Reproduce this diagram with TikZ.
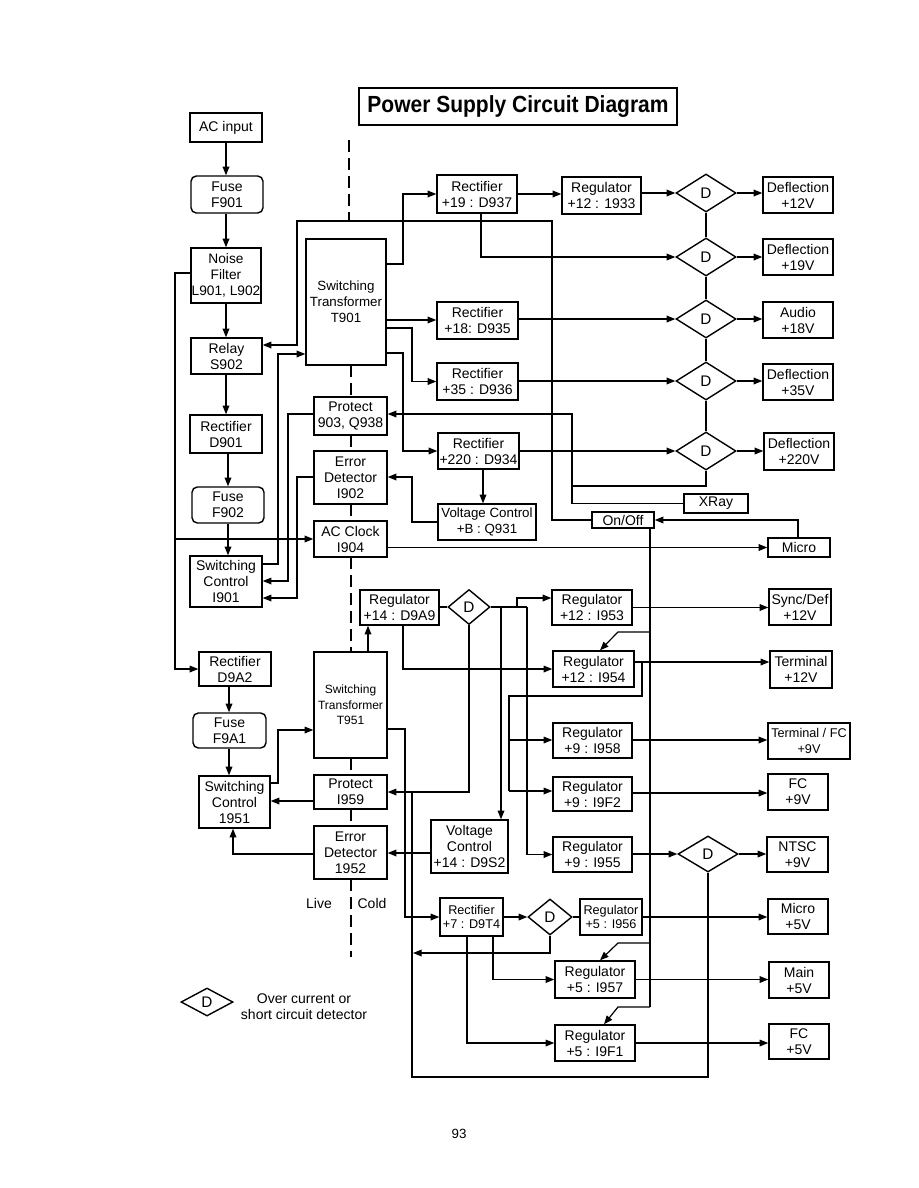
\documentclass[tikz,border=0pt]{standalone}
\usepackage{fontspec}
\setmainfont{Liberation Sans}
\usetikzlibrary{shapes.geometric,arrows.meta}
\newcommand\bx[7][]{%
  \pgfmathsetmacro\bxcx{(#3+#5)/2}\pgfmathsetmacro\bxcy{(#4+#6)/2}%
  \pgfmathsetmacro\bxw{(#5-#3)*0.75}\pgfmathsetmacro\bxh{(#6-#4)*0.75}%
  \node[box,#1,minimum width=\bxw pt,minimum height=\bxh pt] (#2) at (\bxcx,\bxcy) {#7};}
\begin{document}
\begin{tikzpicture}[x=0.75pt,y=-0.75pt,
  box/.style={draw,line width=1.05pt,inner sep=0pt,align=center,font=\fontsize{10.5}{12}\selectfont},
  sm/.style={font=\fontsize{9.5}{11}\selectfont},
  fuse/.style={rounded corners=4pt},
  dia/.style={diamond,draw,line width=1.05pt,inner sep=0pt,font=\fontsize{11.5}{12}\selectfont},
  dbig/.style={dia,minimum width=45pt,minimum height=28.5pt},
  wire/.style={line width=0.9pt},
  arr/.style={wire,-{Triangle[length=6.5pt,width=5pt]}},
  live/.style={line width=2.2pt,dash pattern=on 9pt off 4.5pt},
  lbl/.style={inner sep=0pt,font=\fontsize{10.5}{12}\selectfont,align=center},
]
\useasboundingbox (0,0) rectangle (918,1188);

% ---------- title ----------
\bx[line width=1.4pt,font=\fontsize{17.5}{19}\bfseries]{title}{359}{88}{677}{125}{\scalebox{0.9}[1]{Power Supply Circuit Diagram}}

% ---------- live/cold divider ----------
\draw[live] (349,140) -- (349,221);
\draw[live] (351,365) -- (351,397);
\draw[live] (351,435) -- (351,451);
\draw[live] (351,504) -- (351,521);
\draw[live] (351,557) -- (351,652);
\draw[live] (351,758) -- (351,775);
\draw[live] (351,809) -- (351,826);
\draw[live] (351,879) -- (351,957);
\node[lbl] (live) at (319,903) {Live};
\node[lbl] (cold) at (372,903) {Cold};

% ---------- left column (upper) ----------
\bx{acin}{190}{113}{262}{142}{AC input}
\bx[fuse]{f901}{191}{176}{263}{213}{Fuse\\F901}
\bx[font=\fontsize{10.3}{12}\selectfont]{nf}{191}{248}{261}{303}{Noise\\Filter\\L901, L902}
\bx{relay}{191}{338}{262}{374}{Relay\\S902}
\bx{d901}{190}{415}{262}{453}{Rectifier\\D901}
\bx[fuse]{f902}{192}{487}{264}{523}{Fuse\\F902}
\bx{sc901}{190}{556}{262}{607}{Switching\\Control\\I901}

\bx[font=\fontsize{10}{12}\selectfont]{t901}{306}{239}{386}{365}{Switching\\Transformer\\T901}
\bx{p903}{314}{397}{387}{435}{Protect\\903, Q938}
\bx{ed902}{314}{451}{387}{504}{Error\\Detector\\I902}
\bx{acc}{314}{521}{387}{557}{AC Clock\\I904}

% ---------- upper rectifiers ----------
\bx{r19}{437}{175}{517}{213}{Rectifier\\+19 : D937}
\bx{reg1933}{562}{177}{641}{214}{Regulator\\+12 : 1933}
\bx{r18}{437}{302}{518}{339}{Rectifier\\+18: D935}
\bx{r35}{437}{363}{518}{400}{Rectifier\\+35 : D936}
\bx{r220}{438}{433}{519}{469}{Rectifier\\+220 : D934}
\bx[font=\fontsize{10}{12}\selectfont]{vcb}{438}{504}{536}{540}{Voltage Control\\+B : Q931}

\node[dbig] (D12) at (706,193) {D};
\node[dbig] (D19) at (706,257) {D};
\node[dbig] (D18) at (706,319) {D};
\node[dbig] (D35) at (706,381) {D};
\node[dbig] (D220) at (706,451) {D};

\bx{defl12}{763}{177}{833}{213}{Deflection\\+12V}
\bx{defl19}{763}{239}{833}{275}{Deflection\\+19V}
\bx{aud}{763}{302}{833}{338}{Audio\\+18V}
\bx{defl35}{763}{364}{833}{400}{Deflection\\+35V}
\bx{defl220}{764}{433}{834}{470}{Deflection\\+220V}

\bx{xray}{684}{494}{748}{513}{XRay}
\bx{onoff}{592}{512}{654}{528}{On/Off}
\bx{micro}{768}{538}{830}{557}{Micro}

% ---------- left column (lower) ----------
\bx{d9a2}{199}{652}{271}{686}{Rectifier\\D9A2}
\bx[fuse]{f9a1}{193}{713}{266}{748}{Fuse\\F9A1}
\bx{sc951}{199}{776}{270}{828}{Switching\\Control\\1951}
\bx[font=\fontsize{9}{11.5}\selectfont]{t951}{314}{652}{387}{758}{Switching\\Transformer\\T951}
\bx{p959}{314}{775}{387}{809}{Protect\\I959}
\bx{ed952}{314}{826}{387}{879}{Error\\Detector\\1952}

% ---------- lower regulators ----------
\bx{rd9a9}{360}{590}{439}{625}{Regulator\\+14 : D9A9}
\node[dia,minimum width=31.5pt,minimum height=26.25pt] (D14) at (469,607) {D};
\bx{vcd9s2}{431}{820}{508}{873}{Voltage\\Control\\+14 : D9S2}
\bx{i953}{552}{590}{632}{625}{Regulator\\+12 : I953}
\bx{i954}{553}{651}{634}{687}{Regulator\\+12 : I954}
\bx{i958}{553}{723}{632}{758}{Regulator\\+9 : I958}
\bx{i9f2}{553}{777}{632}{811}{Regulator\\+9 : I9F2}
\bx{i955}{553}{837}{632}{872}{Regulator\\+9 : I955}

\bx{syncdef}{769}{589}{831}{625}{Sync/Def\\+12V}
\bx{term12}{770}{651}{832}{688}{Terminal\\+12V}
\bx[font=\fontsize{9.5}{12}\selectfont]{termfc}{768}{723}{850}{759}{Terminal / FC\\+9V}
\bx{fc9}{768}{774}{828}{810}{FC\\+9V}
\bx{ntsc}{767}{837}{828}{872}{NTSC\\+9V}
\node[dia,minimum width=45pt,minimum height=27pt] (Dntsc) at (708,854) {D};

\bx[sm]{r7}{440}{898}{503}{936}{Rectifier\\+7 : D9T4}
\node[dia,minimum width=33pt,minimum height=27pt] (D7) at (550,917) {D};
\bx[sm]{i956}{580}{899}{642}{935}{Regulator\\+5 : I956}
\bx{i957}{555}{961}{635}{998}{Regulator\\+5 : I957}
\bx{i9f1}{555}{1025}{635}{1061}{Regulator\\+5 : I9F1}
\bx{micro5}{768}{899}{828}{934}{Micro\\+5V}
\bx{main5}{769}{962}{829}{998}{Main\\+5V}
\bx{fc5}{769}{1024}{829}{1059}{FC\\+5V}

% ---------- legend ----------
\node[dia,minimum width=39pt,minimum height=21pt] (legD) at (207,1002) {D};
\node[lbl] (legT) at (304,1007) {Over current or\\short circuit detector};
\node[inner sep=0pt,font=\fontsize{10}{12}\selectfont] (page) at (459,1134) {93};

% ================= connectors =================
% left chain
\draw[arr] (acin.south -| 226,0) -- (f901.north -| 226,0);
\draw[arr] (f901.south -| 226,0) -- (nf.north -| 226,0);
\draw[arr] (nf.south -| 226,0) -- (relay.north -| 226,0);
\draw[arr] (relay.south -| 226,0) -- (d901.north -| 226,0);
\draw[arr] (d901.south -| 228,0) -- (f902.north -| 228,0);
\draw[arr] (f902.south -| 228,0) -- (sc901.north -| 228,0);
\draw[arr] (nf.west |- 0,273) -- (175,273) |- (d9a2.west);
\draw[arr] (175,539) -- (acc.west);

% T901 outputs
\draw[arr] (t901.east |- 0,264) -| (403,194) -- (r19.west);
\draw[arr] (t901.east |- 0,320) -- (r18.west |- 0,320);
\draw[arr] (t901.east |- 0,328) -| (412,381.5) -- (r35.west);
\draw[arr] (t901.east |- 0,353) -| (403,451) -- (r220.west);

% rectifiers to detectors
\draw[arr] (r19.east) -- (reg1933.west |- r19.east);
\draw[arr] (reg1933.east |- D12.west) -- (D12.west);
\draw[arr] (r19.south -| 481,0) |- (D19.west);
\draw[arr] (r18.east |- D18.west) -- (D18.west);
\draw[arr] (r35.east |- D35.west) -- (D35.west);
\draw[arr] (r220.east |- D220.west) -- (D220.west);
\draw[arr] (D12.east) -- (defl12.west |- D12.east);
\draw[arr] (D19.east) -- (defl19.west |- D19.east);
\draw[arr] (D18.east) -- (aud.west |- D18.east);
\draw[arr] (D35.east) -- (defl35.west |- D35.east);
\draw[arr] (D220.east) -- (defl220.west |- D220.east);
\draw[wire] (D12.south) -- (D19.north);
\draw[wire] (D19.south) -- (D18.north);
\draw[wire] (D18.south) -- (D35.north);
\draw[wire] (D35.south) -- (D220.north);
\draw[wire] (D220.south) |- (572,486);
\draw[arr] (xray.west) -| (572,414) -- (p903.east |- 0,414);

\draw[arr] (r220.south -| 483,0) -- (vcb.north -| 483,0);
\draw[arr] (vcb.west) -| (412,477) -- (ed902.east |- 0,477);

% on/off and micro
\draw[arr] (onoff.west) -| (552,221) -| (297,345) -- (relay.east |- 0,345);
\draw[arr] (acc.east |- micro.west) -- (micro.west);
\draw[arr] (micro.north -| 798,0) |- (onoff.east);
\draw[wire] (onoff.south -| 650,0) -- (650,1007);
\draw[arr] (650,632) -- (618,632) -- (i954.north -| 600,0);
\draw[arr] (650,943) -- (618,943) -- (i957.north -| 600,0);
\draw[arr] (650,1007) -- (618,1007) -- (i9f1.north -| 604,0);

% switching control I901
\draw[arr] (sc901.east |- 0,564) -| (278,354) -- (t901.west |- 0,354);
\draw[arr] (p903.west |- 0,414) -| (288,581) -- (sc901.east |- 0,581);
\draw[arr] (ed902.west |- 0,477) -| (297,598) -- (sc901.east |- 0,598);

% lower live side
\draw[arr] (d9a2.south -| 229,0) -- (f9a1.north -| 229,0);
\draw[arr] (f9a1.south -| 229,0) -- (sc951.north -| 229,0);
\draw[arr] (sc951.east |- 0,783) -| (278,730) -- (t951.west |- 0,730);
\draw[arr] (p959.west |- 0,801) -- (sc951.east |- 0,801);
\draw[arr] (ed952.west |- 0,854) -| (sc951.south -| 233,0);
\draw[arr] (vcd9s2.west |- 0,853) -- (ed952.east |- 0,853);

% T951 and +14 regulator
\draw[arr] (t951.north -| 368,0) -- (rd9a9.south -| 368,0);
\draw[wire] (rd9a9.east |- D14.west) -- (D14.west);
\draw[arr] (rd9a9.south -| 403,0) |- (i954.west);
\draw[wire] (D14.east) -- (527,607);
\draw[arr] (501,607) -- (vcd9s2.north -| 501,0);
\draw[arr] (517,607) |- (i953.west |- 0,598);
\draw[arr] (527,607) |- (i955.west);
\draw[arr] (D14.south) |- (p959.east);
\draw[wire] (Dntsc.south) |- (412,1077) -- (412,792);

% regulator outputs
\draw[arr] (i953.east) -- (syncdef.west |- i953.east);
\draw[arr] (i954.east |- 0,662) -- (term12.west |- 0,662);
\draw[wire] (642,662) -- (642,696) -- (509,696) -- (509,791);
\draw[arr] (509,740) -- (i958.west |- 0,740);
\draw[arr] (509,791) -- (i9f2.west |- 0,791);
\draw[arr] (i958.east |- 0,740) -- (termfc.west |- 0,740);
\draw[arr] (i9f2.east |- 0,793) -- (fc9.west |- 0,793);
\draw[arr] (i955.east |- Dntsc.west) -- (Dntsc.west);
\draw[arr] (Dntsc.east) -- (ntsc.west |- Dntsc.east);

% +7 rectifier
\draw[arr] (t951.east |- 0,729) -| (405,917) -- (r7.west);
\draw[arr] (r7.east |- D7.west) -- (D7.west);
\draw[wire] (D7.east) -- (i956.west |- D7.east);
\draw[arr] (D7.south) |- (413,953);
\draw[arr] (r7.south -| 493,0) |- (i957.west);
\draw[arr] (r7.south -| 467,0) |- (i9f1.west);
\draw[arr] (i956.east) -- (micro5.west |- i956.east);
\draw[arr] (i957.east) -- (main5.west |- i957.east);
\draw[arr] (i9f1.east) -- (fc5.west |- i9f1.east);
\end{tikzpicture}
\end{document}
